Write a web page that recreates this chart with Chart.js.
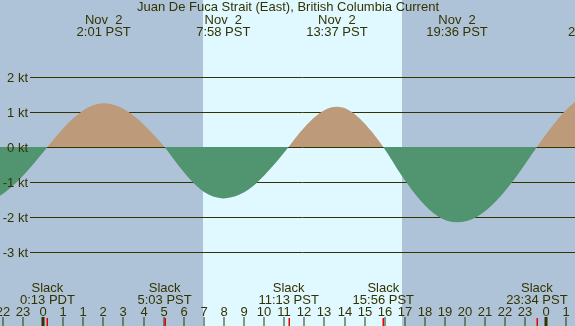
<!DOCTYPE html>
<html>
<head>
<meta charset="utf-8">
<script src="https://cdn.jsdelivr.net/npm/chart.js@4/dist/chart.umd.min.js"></script>
<style>
    body { margin: 0; background: #b0c4de; }
    #wrap { position: relative; width: 575px; height: 326px; }
</style>
</head>
<body>
<div id="wrap"><canvas id="current-chart"></canvas></div>
<script>
// Time axis is in elapsed hours, 0 = midnight PDT Nov 2 (DST ends at 2:00 PDT)
const times  = [-3.3, -2.42, -1.54, -0.66, 0.22, 0.92, 1.62, 2.32, 3.02, 3.78, 4.54, 5.29, 6.05,
                6.78, 7.51, 8.24, 8.97, 9.78, 10.6, 11.41, 12.22, 12.82, 13.42, 14.02, 14.62,
                15.2, 15.77, 16.35, 16.93, 17.85, 18.77, 19.68, 20.6, 21.59, 22.58, 23.58,
                24.57, 25.3, 26.02, 26.75, 27.47];
const speeds = [-1.6, -1.48, -1.13, -0.61, 0, 0.48, 0.88, 1.15, 1.25, 1.15, 0.88, 0.48, 0,
                -0.56, -1.04, -1.36, -1.47, -1.36, -1.04, -0.56, 0, 0.44, 0.81, 1.06, 1.15,
                1.06, 0.81, 0.44, 0, -0.82, -1.52, -1.99, -2.15, -1.99, -1.52, -0.82,
                0, 0.57, 1.06, 1.39, 1.5];

// hour tick labels (elapsed -2 .. 26), "1" twice because of the DST change
const hourLabels = ['22', '23', '0', '1', '1', '2', '3', '4', '5', '6', '7', '8', '9', '10', '11',
                    '12', '13', '14', '15', '16', '17', '18', '19', '20', '21', '22', '23', '0', '1'];
const firstHour = -2;
const midnights = [0, 25];

const ktTicks = [2, 1, 0, -1, -2, -3];

// max current events (top) and slack events (bottom)
const maxTimes  = [3.02, 8.97, 14.62, 20.6, 27.47];
const maxDates  = ['Nov  2', 'Nov  2', 'Nov  2', 'Nov  2', 'Nov  3'];
const maxLabels = ['2:01 PST', '7:58 PST', '13:37 PST', '19:36 PST', '2:28 PST'];
const slackTimes  = [0.22, 6.05, 12.22, 16.93, 24.57];
const slackLabels = ['0:13 PDT', '5:03 PST', '11:13 PST', '15:56 PST', '23:34 PST'];

const sunrise = 7.96;
const sunset = 17.86;

const title = 'Juan De Fuca Strait (East), British Columbia Current';

const NIGHT = '#afc3d8';
const DAY = '#e0f8ff';
const INK = '#333300';
const FONT = '13px "Liberation Sans", Arial, sans-serif';

// background, grid and text drawn around the dataset
const tidePlugin = {
    id: 'tide',
    beforeDraw(chart) {
        const { ctx, width, height } = chart;
        const x = chart.scales.x;
        ctx.save();
        ctx.fillStyle = NIGHT;
        ctx.fillRect(0, 0, width, height);
        ctx.fillStyle = DAY;
        const x0 = x.getPixelForValue(sunrise);
        const x1 = x.getPixelForValue(sunset);
        ctx.fillRect(Math.round(x0), 0, Math.round(x1) - Math.round(x0), height);
        ctx.restore();
    },
    beforeDatasetsDraw(chart) {
        const { ctx, width } = chart;
        const y = chart.scales.y;
        ctx.save();
        ctx.strokeStyle = INK;
        ctx.lineWidth = 1;
        ktTicks.forEach(v => {
            const py = Math.round(y.getPixelForValue(v)) + 0.5;
            ctx.beginPath();
            ctx.moveTo(30, py);
            ctx.lineTo(width, py);
            ctx.stroke();
        });
        ctx.restore();
    },
    afterDatasetsDraw(chart) {
        const { ctx, height } = chart;
        const x = chart.scales.x;
        const y = chart.scales.y;
        ctx.save();
        ctx.font = FONT;
        ctx.fillStyle = INK;
        ctx.textBaseline = 'alphabetic';

        // title + max current times
        ctx.textAlign = 'center';
        ctx.fillText(title, 288, 11);
        maxTimes.forEach((t, i) => {
            const px = x.getPixelForValue(t);
            ctx.fillText(maxDates[i], px, 24);
            ctx.fillText(maxLabels[i], px, 36);
        });

        // kt labels
        ctx.textAlign = 'right';
        ktTicks.forEach(v => {
            ctx.fillText(v + ' kt', 28, y.getPixelForValue(v) + 5);
        });

        // slack labels
        ctx.textAlign = 'center';
        slackTimes.forEach((t, i) => {
            const px = x.getPixelForValue(t);
            ctx.fillText('Slack', px, 292);
            ctx.fillText(slackLabels[i], px, 304);
        });

        // hour labels and ticks
        hourLabels.forEach((lab, i) => {
            const h = firstHour + i;
            const px = Math.round(x.getPixelForValue(h));
            ctx.fillText(lab, px, 316);
            if (midnights.includes(h)) {
                ctx.fillRect(px - 1.5, 317, 3, height - 317);
            } else {
                ctx.fillRect(px - 0.5, 317, 1, height - 317);
            }
        });

        ctx.fillStyle = '#ee0000';
        slackTimes.forEach(t => {
            const px = Math.round(x.getPixelForValue(t));
            ctx.fillRect(px - 0.5, 318, 1.5, height - 318);
        });
        ctx.restore();
    }
};

function createChart(id) {
    const ctx = document.getElementById(id);

    const config = {
        type: 'line',
        data: {
            datasets: [{
                data: times.map((t, i) => ({ x: t, y: speeds[i] })),
                borderColor: 'rgba(0,0,0,0)',
                borderWidth: 0,
                pointRadius: 0,
                cubicInterpolationMode: 'monotone',
                fill: {
                    target: 'origin',
                    above: '#bc9a7a',
                    below: '#519570'
                }
            }]
        },
        options: {
            responsive: true,
            maintainAspectRatio: false,
            animation: false,
            layout: { padding: 0 },
            plugins: {
                legend: { display: false },
                title: { display: false },
                tooltip: { enabled: false }
            },
            scales: {
                x: {
                    type: 'linear',
                    display: false,
                    min: -43 / 20.1,
                    max: (575 - 43) / 20.1
                },
                y: {
                    display: false,
                    min: (147 - 326) / 35,
                    max: 147 / 35
                }
            }
        },
        plugins: [tidePlugin]
    };
    new Chart(ctx, config);
}

document.addEventListener('DOMContentLoaded', () => {
    createChart('current-chart');
});
</script>
</body>
</html>
